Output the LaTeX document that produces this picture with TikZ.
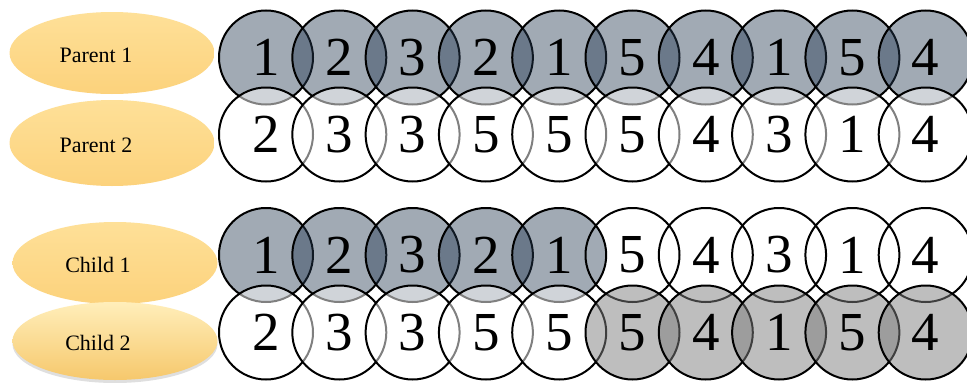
\documentclass[tikz,border=0pt]{standalone}
\usepackage{fontspec}
\setmainfont{Liberation Serif}
\usetikzlibrary{shapes.geometric,shadows}
\definecolor{slateC}{RGB}{38,58,83}
\definecolor{grayC}{RGB}{126,126,126}
\definecolor{goldTop}{RGB}{254,224,152}
\definecolor{goldBot}{RGB}{252,210,124}
\definecolor{goldTopB}{RGB}{255,238,186}
\definecolor{goldBotB}{RGB}{246,200,108}
\begin{document}
\begin{tikzpicture}[x=1pt,y=-1pt,
  cell/.style={circle, draw=black, line width=2pt, minimum size=94pt, inner sep=0pt,
    text opacity=1, font=\fontsize{55}{60}\selectfont},
  slate/.style={cell, fill=slateC, fill opacity=0.43},
  whitec/.style={cell, fill=white, fill opacity=0.5},
  plain/.style={cell},
  grayc/.style={cell, fill=grayC, fill opacity=0.5},
  oval/.style={ellipse, draw=none, minimum width=205pt, minimum height=82pt, inner sep=0pt,
    top color=goldTop, bottom color=goldBot},
  ovalb/.style={oval, top color=goldTopB, bottom color=goldBotB,
    drop shadow={opacity=0.25, shadow xshift=0pt, shadow yshift=-3pt}},
  lbl/.style={inner sep=0pt, font=\fontsize{22}{25}\selectfont}]
\fill[white] (0,0) rectangle (967,383);
\useasboundingbox (0,0) rectangle (967,383);
\clip (0,0) rectangle (967,383);

% labels
\node[oval] (e1) at (112,53) {};
\node[oval, minimum height=86pt] (e2) at (112,143) {};
\node[oval] (e3) at (115,263) {};
\node[ovalb, minimum height=78pt] (e4) at (115,341) {};
\node[lbl] (t1) at (96,55) {Parent 1};
\node[lbl] (t2) at (96,145) {Parent 2};
\node[lbl] (t3) at (98,265) {Child 1};
\node[lbl] (t4) at (98,343) {Child 2};

% Parent 1
\foreach \v [count=\i] in {1,2,3,2,1,5,4,1,5,4}
  \node[slate] (pa-\i) at ({266+73.3*(\i-1)},57.5) {\v};
% Parent 2
\foreach \v [count=\i] in {2,3,3,5,5,5,4,3,1,4}
  \node[whitec] (pb-\i) at ({266+73.3*(\i-1)},134.5) {\v};
% Child 1
\foreach \v/\s [count=\i] in {1/slate,2/slate,3/slate,2/slate,1/slate,5/plain,4/plain,3/plain,1/plain,4/plain}
  \node[\s] (ca-\i) at ({266+73.3*(\i-1)},255) {\v};
% Child 2
\foreach \v/\s [count=\i] in {2/whitec,3/whitec,3/whitec,5/whitec,5/whitec,5/grayc,4/grayc,1/grayc,5/grayc,4/grayc}
  \node[\s] (cb-\i) at ({266+73.3*(\i-1)},332.5) {\v};
\end{tikzpicture}
\end{document}
